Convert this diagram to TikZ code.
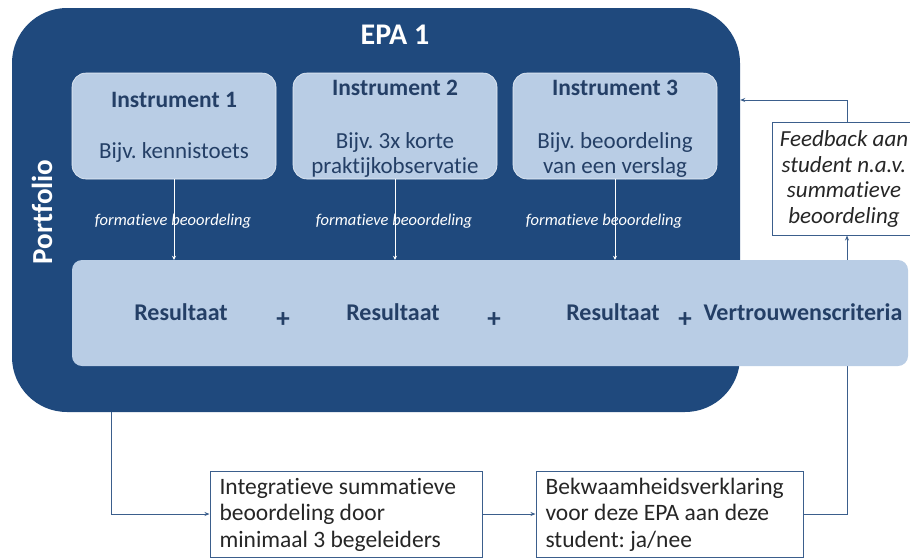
\documentclass[tikz,border=0pt]{standalone}
\usepackage{fontspec}
\setmainfont{Carlito}[Ligatures=NoCommon]
\usetikzlibrary{arrows.meta}
\definecolor{navy}{HTML}{1F497D}
\definecolor{pale}{HTML}{B9CDE5}
\definecolor{inktext}{HTML}{243F66}
\definecolor{wire}{HTML}{3B5E8C}
\newcommand{\fs}[2]{\fontsize{#1}{#2}\selectfont}
\frenchspacing
\begin{document}
\begin{tikzpicture}[x=1pt,y=-1pt,
  panel/.style={fill=navy, rounded corners=55pt, minimum width=728pt, minimum height=404pt, inner sep=0pt},
  instbox/.style={fill=pale, draw=white!70!pale, line width=0.6pt, rounded corners=14pt, minimum width=204pt, minimum height=106pt, inner sep=0pt},
  band/.style={fill=pale, rounded corners=10pt, minimum width=836pt, minimum height=106pt, inner sep=0pt},
  whitebox/.style={fill=white, draw=wire, line width=1pt, inner sep=0pt},
  title/.style={text=inktext, font=\bfseries\fs{23.5}{26}},
  sub/.style={text=inktext, font=\fs{23}{25}, align=center},
  formlbl/.style={text=white, font=\itshape\fs{16.5}{18}},
  plus/.style={text=inktext, font=\bfseries\fs{27}{28}},
  res/.style={text=inktext, font=\bfseries\fs{24}{26}},
  conn/.style={draw=wire, line width=1pt},
  tip/.style={-{Stealth[length=5pt,width=4pt]}},
  wtip/.style={draw=white, line width=1pt, -{Stealth[length=4pt,width=4pt]}}
]
\useasboundingbox (0,0) rectangle (910,558);

% dark portfolio panel
\node[panel] (panel) at (376,210) {};
\node[text=white, font=\bfseries\fs{30}{32}] (epa) at (395,35) {EPA 1};
\node[text=white, font=\bfseries\fs{29}{30}, rotate=90] (portfolio) at (42,212) {Portfolio};

% instruments
\node[instbox] (i1) at (174,126) {};
\node[instbox] (i2) at (395,126) {};
\node[instbox] (i3) at (615,126) {};
\node[title] (i1t) at (174,100) {Instrument 1};
\node[sub] (i1s) at (174,152) {Bijv. kennistoets};
\node[title] (i2t) at (395,88) {Instrument 2};
\node[sub] (i2s) at (395,155) {Bijv. 3x korte\\praktijkobservatie};
\node[title] (i3t) at (615,88) {Instrument 3};
\node[sub] (i3s) at (615,155) {Bijv. beoordeling\\van een verslag};

% return path from the declaration to the feedback box (runs behind the band)
\node[whitebox, minimum width=267pt, minimum height=86pt] (b2) at (669.5,514) {};
\node[whitebox, minimum width=150pt, minimum height=113pt] (fb) at (847,178.5) {};
\draw[conn,tip] (b2.east) -| (fb.south);

% results band
\node[band] (band) at (490,313) {};
\node[res] (r1) at (181,312) {Resultaat};
\node[plus] (p1) at (283,320) {+};
\node[res] (r2) at (393,312) {Resultaat};
\node[plus] (p2) at (494,320) {+};
\node[res] (r3) at (613,312) {Resultaat};
\node[plus] (p3) at (685,320) {+};
\node[res] (vc) at (803,312) {Vertrouwenscriteria};

% formative arrows
\draw[wtip] (i1.south) -- (i1.south |- band.north);
\draw[wtip] (i2.south) -- (i2.south |- band.north);
\draw[wtip] (i3.south) -- (i3.south |- band.north);
\node[formlbl] (f1) at (173,221) {formatieve beoordeling};
\node[formlbl] (f2) at (394,221) {formatieve beoordeling};
\node[formlbl] (f3) at (604,221) {formatieve beoordeling};

% feedback box
\node[font=\itshape\fs{23}{25.5}, align=center, text=black!85] (fbt) at (844,179) {Feedback aan\\student n.a.v.\\summatieve\\beoordeling};
\coordinate (fbturn) at (847,100);
\draw[conn,tip] (fb.north) -- (fbturn) -- (fbturn -| panel.east);

% summative chain
\node[whitebox, minimum width=272pt, minimum height=86pt] (b1) at (346,514) {};
\node[font=\fs{23.5}{26.5}, align=left, text=black!85, anchor=west] (b1t) at (216,514.5) {Integratieve summatieve\\beoordeling door\\minimaal 3 begeleiders};
\node[font=\fs{23.5}{26.5}, align=left, text=black!85, anchor=west] (b2t) at (542,514.5) {Bekwaamheidsverklaring\\voor deze EPA aan deze\\student: ja/nee};
\coordinate (pout) at ([xshift=100pt]panel.south west);
\draw[conn,tip] (pout) |- (b1.west);
\draw[conn,tip] (b1.east) -- (b2.west);
\end{tikzpicture}
\end{document}
